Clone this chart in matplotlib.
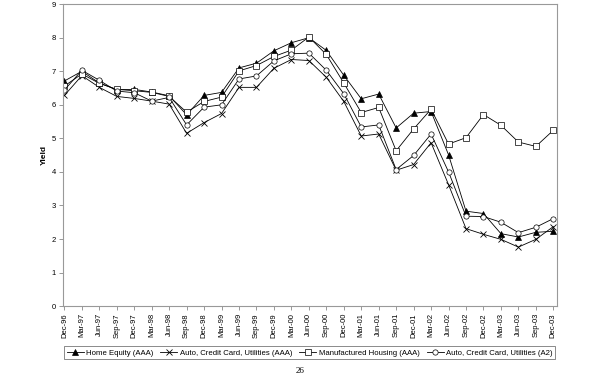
import matplotlib
matplotlib.use("Agg")
import matplotlib.pyplot as plt

plt.rcParams['font.family'] = ['Liberation Sans', 'DejaVu Sans']

quarters = ["Dec-96", "Mar-97", "Jun-97", "Sep-97", "Dec-97", "Mar-98", "Jun-98",
            "Sep-98", "Dec-98", "Mar-99", "Jun-99", "Sep-99", "Dec-99", "Mar-00",
            "Jun-00", "Sep-00", "Dec-00", "Mar-01", "Jun-01", "Sep-01", "Dec-01",
            "Mar-02", "Jun-02", "Sep-02", "Dec-02", "Mar-03", "Jun-03", "Sep-03",
            "Dec-03"]

home_equity = [6.71, 7.00, 6.65, 6.45, 6.46, 6.38, 6.27, 5.70, 6.28, 6.37, 7.10, 7.24,
               7.61, 7.85, 8.00, 7.62, 6.88, 6.18, 6.32, 5.31, 5.75, 5.80, 4.51, 2.83,
               2.76, 2.16, 2.06, 2.20, 2.23]
auto_aaa = [6.28, 6.87, 6.52, 6.25, 6.19, 6.11, 6.02, 5.15, 5.47, 5.74, 6.52, 6.52,
            7.09, 7.35, 7.32, 6.82, 6.10, 5.07, 5.13, 4.05, 4.22, 4.87, 3.62, 2.31,
            2.14, 1.99, 1.76, 1.99, 2.37]
manuf_housing = [6.56, 6.92, 6.64, 6.46, 6.42, 6.37, 6.25, 5.78, 6.10, 6.23, 7.01, 7.17,
                 7.44, 7.63, 8.02, 7.50, 6.65, 5.77, 5.92, 4.63, 5.28, 5.87, 4.83, 5.02,
                 5.71, 5.39, 4.89, 4.76, 5.24]
auto_a2 = [6.44, 7.03, 6.73, 6.41, 6.36, 6.11, 6.22, 5.40, 5.93, 6.00, 6.77, 6.86,
           7.31, 7.52, 7.54, 7.03, 6.33, 5.34, 5.40, 4.07, 4.49, 5.13, 4.00, 2.68,
           2.67, 2.50, 2.19, 2.35, 2.61]

x = list(range(len(quarters)))

fig = plt.figure(figsize=(6, 3.77), dpi=100)
ax = fig.add_axes([0.105, 0.188, 0.823, 0.801])

lw = 0.6
ax.plot(x, home_equity, color="black", lw=lw, marker="^", ms=4,
        mfc="black", mec="black", mew=0.5, label="Home Equity (AAA)")
ax.plot(x, auto_aaa, color="black", lw=lw, marker="x", ms=4,
        mec="black", mew=0.6, label="Auto, Credit Card, Utilities (AAA)")
ax.plot(x, manuf_housing, color="black", lw=lw, marker="s", ms=3.8,
        mfc="white", mec="black", mew=0.5, label="Manufactured Housing (AAA)")
ax.plot(x, auto_a2, color="black", lw=lw, marker="o", ms=3.8,
        mfc="white", mec="black", mew=0.5, label="Auto, Credit Card, Utilities (A2)")

ax.set_xlim(-0.08, 28.2)
ax.set_ylim(0, 9)
ax.set_yticks(range(0, 10))
ax.set_xticks(x)
ax.set_xticklabels(quarters, rotation=90, fontsize=5.5)
ax.tick_params(axis="y", labelsize=5.5, length=3, width=0.6, color="#888888", pad=2)
ax.tick_params(axis="x", length=3, width=0.6, color="#888888", pad=2)

for s in ax.spines.values():
    s.set_color("#999999")
    s.set_linewidth(0.8)

ax.set_ylabel("Yield", fontsize=6, fontweight="bold", labelpad=3)

# legend box below the date labels
leg = fig.legend(loc="center", bbox_to_anchor=(0.516, 0.064),
                 ncol=4, fontsize=5.6, frameon=True, fancybox=False,
                 handlelength=2.2, handletextpad=0.3, columnspacing=0.9,
                 borderpad=0.35, borderaxespad=0)
leg.get_frame().set_edgecolor("#555555")
leg.get_frame().set_linewidth(0.6)

# page number
fig.text(0.5, 0.004, "26", ha="center", va="bottom", fontsize=6.5,
         family="Liberation Serif")

fig.savefig("out.png", dpi=100)
